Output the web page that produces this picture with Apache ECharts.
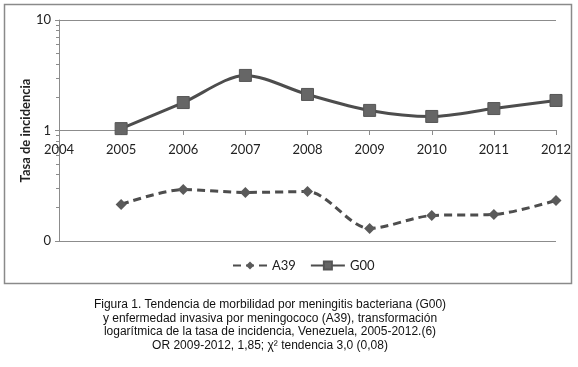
<!DOCTYPE html>
<html>
<head>
<meta charset="utf-8">
<script src="https://cdn.jsdelivr.net/npm/echarts@6/dist/echarts.min.js"></script>
<style>
  html, body { margin: 0; padding: 0; background: #fff; }
  #chart { width: 578px; height: 367px; }
</style>
</head>
<body>
<div id="chart"></div>
<script>
const years = [2005, 2006, 2007, 2008, 2009, 2010, 2011, 2012];
const g00 = [1.04, 1.79, 3.15, 2.12, 1.52, 1.34, 1.58, 1.87];
const a39 = [0.214, 0.292, 0.275, 0.28, 0.13, 0.17, 0.174, 0.233];
const captionLines = [
  'Figura 1. Tendencia de morbilidad por meningitis bacteriana (G00)',
  'y enfermedad invasiva por meningococo (A39), transformación',
  'logarítmica de la tasa de incidencia, Venezuela, 2005-2012.(6)',
  'OR 2009-2012, 1,85; χ² tendencia 3,0 (0,08)'
];

const chart = echarts.init(document.getElementById('chart'));
const axisGray = '#8c8c8c';
const tickFont = { fontFamily: 'Lato', fontSize: 13, color: '#222' };

const option = {
  animation: false,
  backgroundColor: '#fff',
  graphic: [
    {
      type: 'rect',
      shape: { x: 4.5, y: 4.5, width: 567, height: 279 },
      style: { fill: 'none', stroke: '#8a8a8a', lineWidth: 1.5 },
      silent: true
    },
    {
      type: 'text',
      x: 270,
      y: 298,
      silent: true,
      style: {
        text: captionLines.join('\n'),
        align: 'center',
        verticalAlign: 'top',
        fontFamily: 'Liberation Sans',
        fontSize: 12,
        lineHeight: 13.6,
        fill: '#111'
      }
    }
  ],
  legend: {
    left: 227,
    top: 254,
    itemWidth: 34,
    itemHeight: 10,
    itemGap: 14,
    textStyle: { fontFamily: 'Lato', fontSize: 13, color: '#222' },
    data: ['A39', 'G00']
  },
  grid: { left: 59, right: 22, top: 20, bottom: 126 },
  xAxis: {
    type: 'value',
    min: 2004,
    max: 2012,
    interval: 1,
    offset: -111,
    axisLine: { lineStyle: { color: axisGray } },
    axisTick: { show: true, length: 5, lineStyle: { color: axisGray } },
    axisLabel: Object.assign({ margin: 13, formatter: v => String(v) }, tickFont),
    splitLine: { show: false }
  },
  yAxis: {
    type: 'log',
    logBase: 10,
    min: 0.1,
    max: 10,
    name: 'Tasa de incidencia',
    nameLocation: 'middle',
    nameGap: 27,
    nameMoveOverlap: false,
    nameRotate: 90,
    nameTextStyle: { fontFamily: 'Lato', fontSize: 13, fontWeight: 'bold', color: '#222' },
    axisLine: { show: true, lineStyle: { color: axisGray } },
    axisTick: { show: true, length: 4, lineStyle: { color: axisGray } },
    minorTick: { show: true, splitNumber: 9, length: 3, lineStyle: { color: axisGray } },
    axisLabel: Object.assign({
      margin: 8,
      formatter: v => (v < 1 ? '0' : String(Math.round(v)))
    }, tickFont),
    splitLine: { show: true, lineStyle: { color: axisGray, width: 1 } }
  },
  series: [
    {
      name: 'A39',
      type: 'line',
      smooth: 0.3,
      data: years.map((y, i) => [y, a39[i]]),
      symbol: 'diamond',
      symbolSize: 11,
      itemStyle: { color: '#5a5a5a' },
      lineStyle: { color: '#4d4d4d', width: 3, type: [8, 5] }
    },
    {
      name: 'G00',
      type: 'line',
      smooth: 0.3,
      data: years.map((y, i) => [y, g00[i]]),
      symbol: 'rect',
      symbolSize: 12,
      itemStyle: { color: '#666', borderColor: '#555', borderWidth: 1 },
      lineStyle: { color: '#4d4d4d', width: 3 }
    }
  ]
};
chart.setOption(option);
</script>
</body>
</html>
